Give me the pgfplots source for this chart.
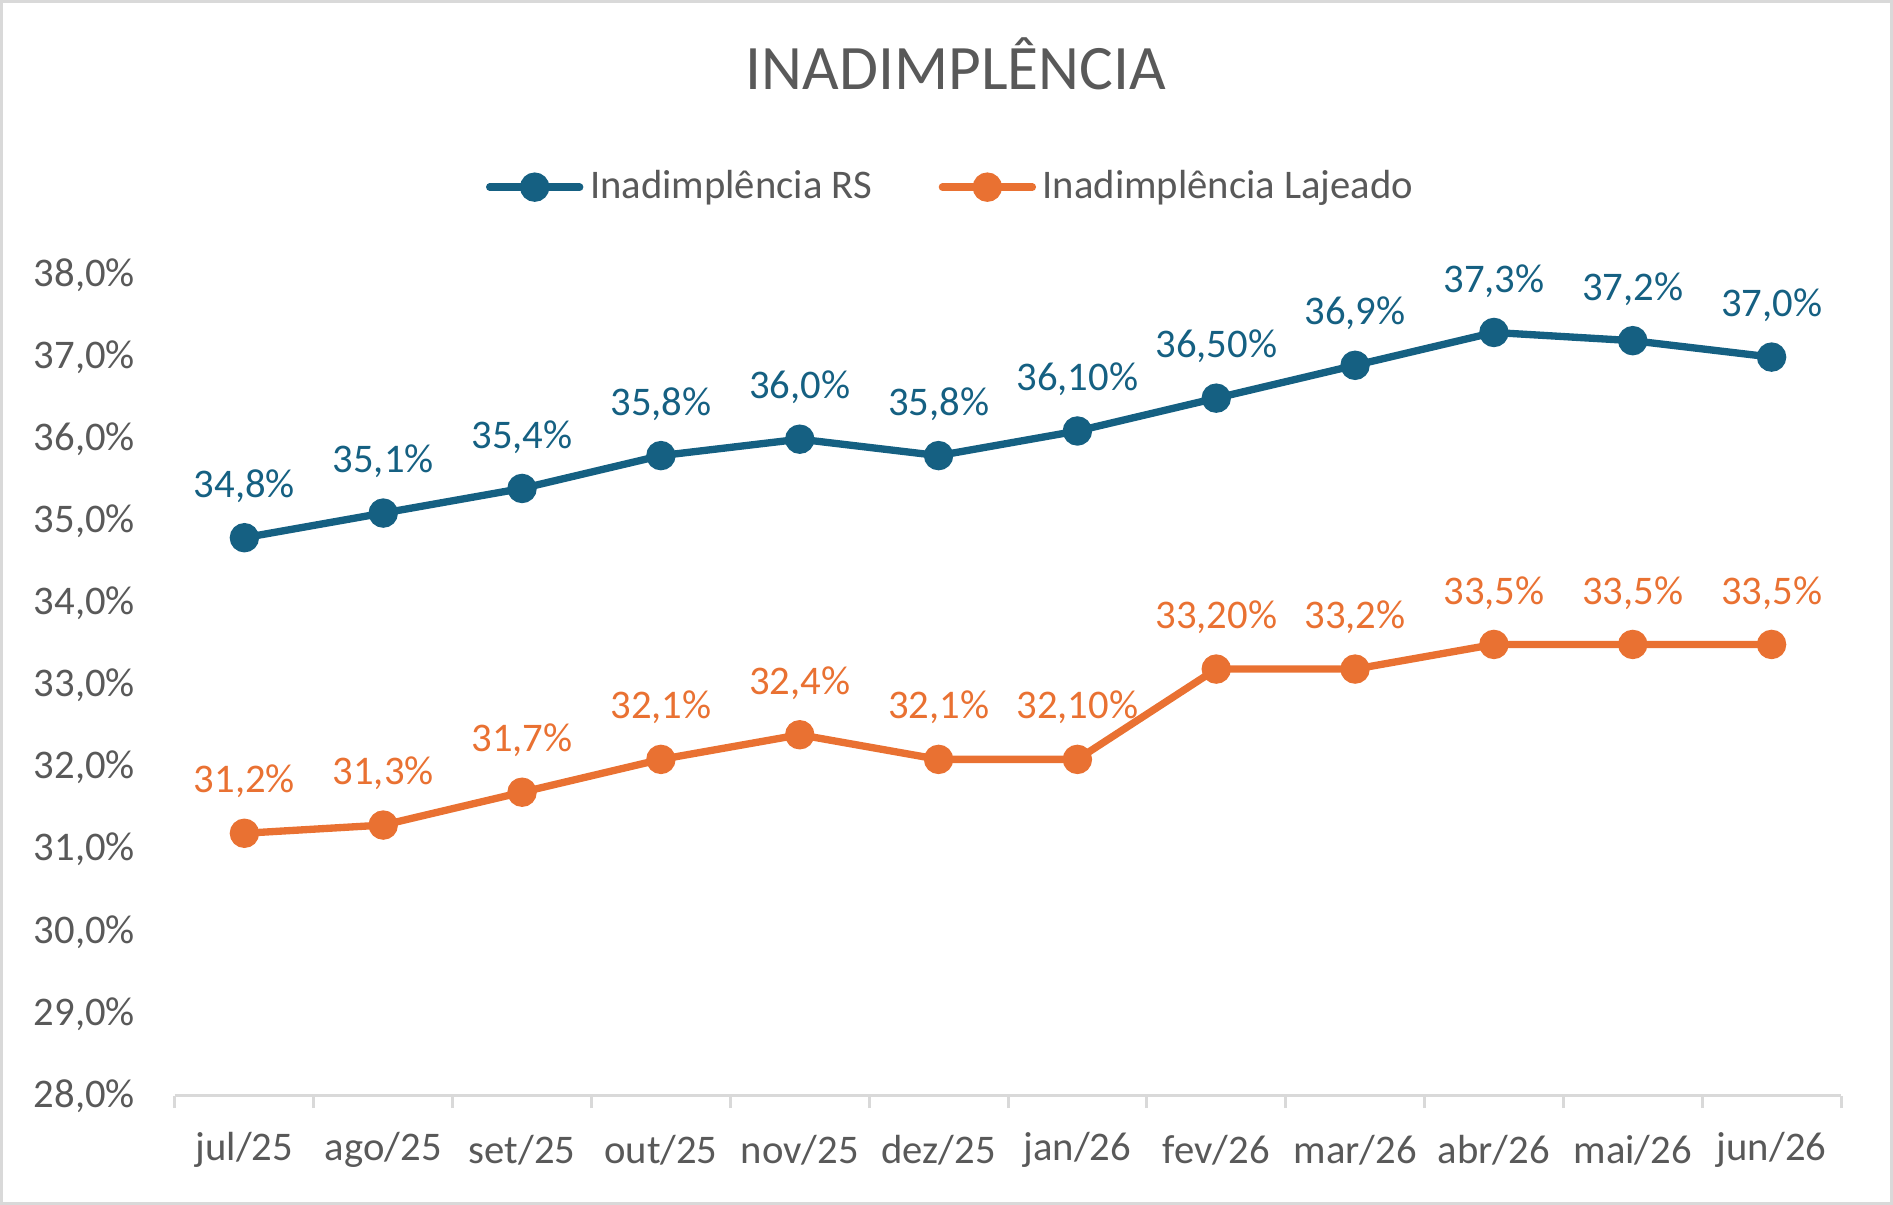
\documentclass[border=0pt]{standalone}
\usepackage{pgfplots}
\pgfplotsset{compat=1.18}
\usepackage{fontspec}
\setmainfont{Carlito}
\definecolor{rsblue}{HTML}{156082}
\definecolor{ljorange}{HTML}{E97132}
\definecolor{txtgray}{HTML}{595959}
\definecolor{axgray}{HTML}{D9D9D9}
\begin{document}
\begin{tikzpicture}
\path[use as bounding box] (0,0) rectangle (567.9pt,361.5pt);
\draw[axgray, line width=0.9pt] (0.45pt,0.45pt) rectangle (567.45pt,361.05pt);
\node[text=txtgray, font=\fontsize{19}{22}\selectfont] at (286.8pt,342.5pt) {INADIMPLÊNCIA};
\begin{axis}[
  at={(52.5pt,32.7pt)}, anchor=south west,
  scale only axis, width=499.8pt, height=246.3pt,
  xmin=-0.5, xmax=11.5, ymin=28, ymax=38,
  axis x line*=bottom, axis y line*=left,
  x axis line style={axgray, line width=0.9pt},
  y axis line style={draw=none},
  xtick={0,...,11},
  xticklabels={jul/25,ago/25,set/25,out/25,nov/25,dez/25,jan/26,fev/26,mar/26,abr/26,mai/26,jun/26},
  minor xtick={-0.5,0.5,...,11.5},
  major tick length=0pt, minor tick length=3.6pt,
  xtick align=outside,
  minor x tick style={axgray, line width=0.9pt},
  ytick={28,...,38},
  yticklabels={{28,0\%},{29,0\%},{30,0\%},{31,0\%},{32,0\%},{33,0\%},{34,0\%},{35,0\%},{36,0\%},{37,0\%},{38,0\%}},
  ytick style={draw=none},
  tick label style={text=txtgray, font=\fontsize{12.2}{14}\selectfont},
  xticklabel style={anchor=center, yshift=-16.2pt},
  yticklabel style={anchor=east, xshift=-8.5pt},
  legend style={at={(0.467,1.107)}, anchor=center, draw=none, fill=none,
    legend columns=2, font=\fontsize{12.2}{14}\selectfont, text=txtgray,
    /tikz/every even column/.append style={column sep=18pt},
    inner sep=0pt},
  legend image code/.code={\draw[mark repeat=2,mark phase=2,#1,line cap=round] plot coordinates {(0pt,0pt) (13.5pt,0pt) (27pt,0pt)};},
  clip=false,
]
\addplot[rsblue, line width=2.2pt, mark=*, mark size=3.3pt, mark options={fill=rsblue, draw=rsblue},
  nodes near coords, point meta=explicit symbolic,
  every node near coord/.style={anchor=center, yshift=15.5pt, text=rsblue, font=\fontsize{12.2}{14}\selectfont}]
coordinates {
(0,34.8) [34,8\%]
(1,35.1) [35,1\%]
(2,35.4) [35,4\%]
(3,35.8) [35,8\%]
(4,36.0) [36,0\%]
(5,35.8) [35,8\%]
(6,36.1) [36,10\%]
(7,36.5) [36,50\%]
(8,36.9) [36,9\%]
(9,37.3) [37,3\%]
(10,37.2) [37,2\%]
(11,37.0) [37,0\%]
};
\addlegendentry{Inadimplência RS}
\addplot[ljorange, line width=2.2pt, mark=*, mark size=3.3pt, mark options={fill=ljorange, draw=ljorange},
  nodes near coords, point meta=explicit symbolic,
  every node near coord/.style={anchor=center, yshift=15.5pt, text=ljorange, font=\fontsize{12.2}{14}\selectfont}]
coordinates {
(0,31.2) [31,2\%]
(1,31.3) [31,3\%]
(2,31.7) [31,7\%]
(3,32.1) [32,1\%]
(4,32.4) [32,4\%]
(5,32.1) [32,1\%]
(6,32.1) [32,10\%]
(7,33.2) [33,20\%]
(8,33.2) [33,2\%]
(9,33.5) [33,5\%]
(10,33.5) [33,5\%]
(11,33.5) [33,5\%]
};
\addlegendentry{Inadimplência Lajeado}
\end{axis}
\end{tikzpicture}
\end{document}
